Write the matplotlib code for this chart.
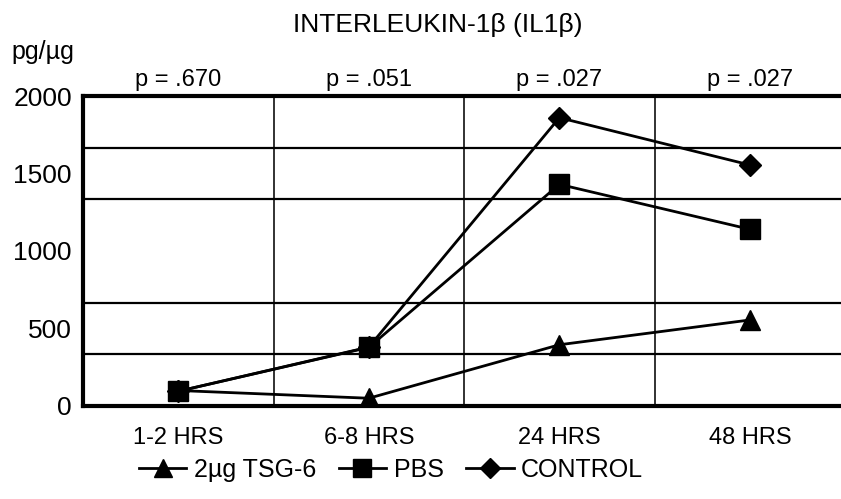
import matplotlib.pyplot as plt
from matplotlib.ticker import MultipleLocator, FixedLocator
import numpy as np

plt.rcParams['font.family'] = ['Liberation Sans', 'DejaVu Sans']

# -----------------------------
# Data
# -----------------------------
categories = ["1-2 HRS", "6-8 HRS", "24 HRS", "48 HRS"]
p_values = ["p = .670", "p = .051", "p = .027", "p = .027"]
tsg6 = [100, 50, 395, 555]
pbs = [95, 378, 1430, 1140]
control = [95, 380, 1860, 1555]

x = np.arange(len(categories))

fig = plt.figure(figsize=(8.41, 4.99), dpi=100)
ax = fig.add_axes([0.0987, 0.1864, 0.9013, 0.6212])

ax.plot(x, tsg6, color='black', lw=2, marker='^', ms=15, label="2µg TSG-6", zorder=3)
ax.plot(x, control, color='black', lw=2, marker='D', ms=11, label="CONTROL", zorder=4)
ax.plot(x, pbs, color='black', lw=2, marker='s', ms=15, label="PBS", zorder=5)

ax.set_xlim(-0.5, 3.478)
ax.set_ylim(0, 2000)

# ticks: labels every 500, grid every 2000/6
ax.yaxis.set_major_locator(MultipleLocator(500))
ax.yaxis.set_minor_locator(FixedLocator(np.arange(1, 6) * 2000 / 6))
ax.set_xticks(x)
ax.set_xticklabels(categories)
ax.xaxis.set_minor_locator(FixedLocator([0.5, 1.5, 2.5]))
ax.tick_params(which='both', length=0)
ax.tick_params(axis='y', labelsize=19, pad=8)
ax.tick_params(axis='x', labelsize=17, pad=15)

ax.grid(which='minor', axis='y', color='black', lw=1.6)
ax.grid(which='minor', axis='x', color='#222222', lw=1.3)

for side in ['left', 'top', 'bottom']:
    ax.spines[side].set_linewidth(3)
ax.spines['right'].set_visible(False)

# p-values above each category
for xi, p in zip(x, p_values):
    ax.text(xi, 2035, p, ha='center', va='bottom', fontsize=17)

fig.text(0.52, 0.95, "INTERLEUKIN-1β (IL1β)", ha='center', va='center', fontsize=19)
fig.text(0.051, 0.895, "pg/µg", ha='center', va='center', fontsize=18)

handles, labels = ax.get_legend_handles_labels()
order = [0, 2, 1]
fig.legend([handles[i] for i in order], [labels[i] for i in order],
           loc='center', bbox_to_anchor=(0.465, 0.058), ncol=3, frameon=False,
           fontsize=18, handlelength=1.9, handletextpad=0.3, columnspacing=0.9,
           markerscale=0.9)

fig.savefig('out.png', dpi=100)
